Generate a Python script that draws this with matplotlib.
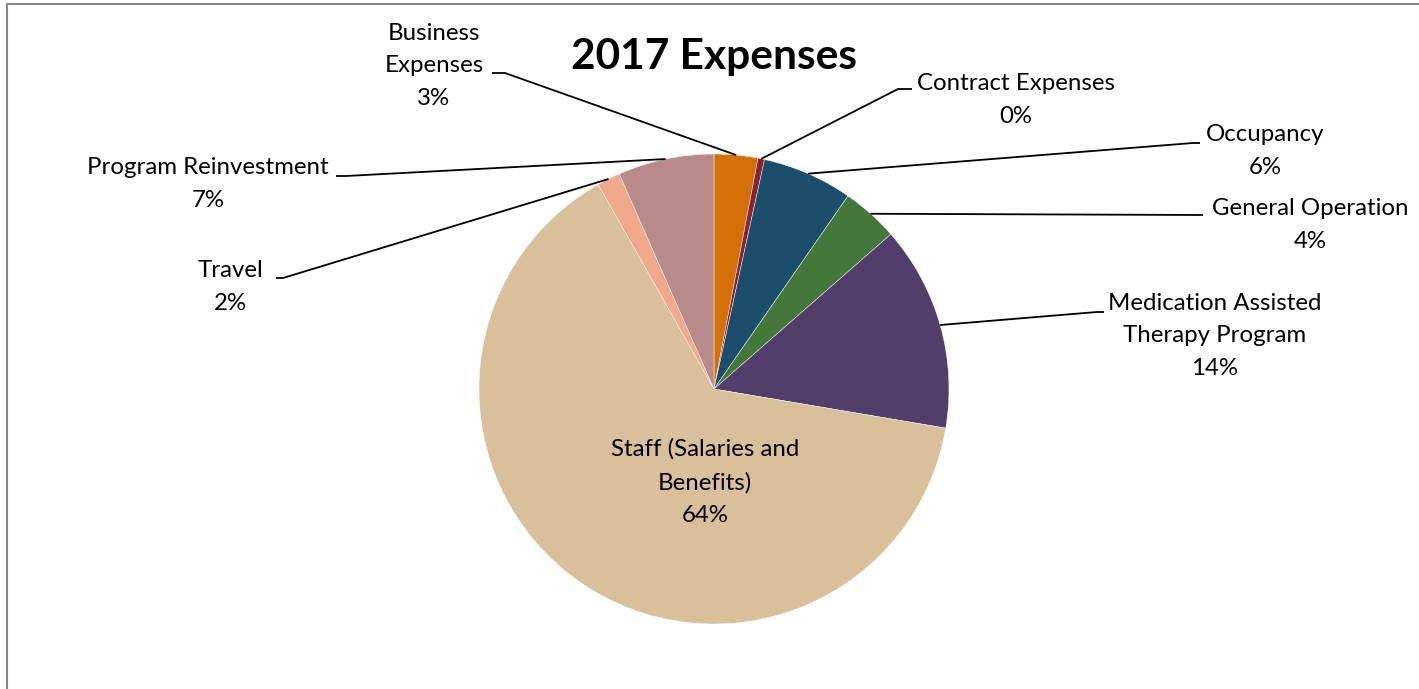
import numpy as np
import matplotlib.pyplot as plt
from matplotlib.patches import Rectangle

# 2017 expenses, share of total (%), clockwise from 12 o'clock
categories = ["Business Expenses", "Contract Expenses", "Occupancy", "General Operation",
              "Medication Assisted Therapy Program", "Staff (Salaries and Benefits)",
              "Travel", "Program Reinvestment"]
shares = [3.0, 0.45, 6.2, 3.9, 14.1, 64.1, 1.6, 6.6]
pct_labels = ["3%", "0%", "6%", "4%", "14%", "64%", "2%", "7%"]
colors = ["#D56F08", "#8B2232", "#1A4E6C", "#44783A", "#523E6A", "#D9C09B", "#F2A88A", "#B98A8A"]

plt.rcParams['font.family'] = ['Lato', 'DejaVu Sans']

W, H = 1419, 689
fig = plt.figure(figsize=(W / 100, H / 100), dpi=100)
ax = fig.add_axes([0, 0, 1, 1])

cx, cy, r = 714, H - 389, 235
wedges, _ = ax.pie(shares, colors=colors, startangle=90, counterclock=False,
                   center=(cx, cy), radius=r, frame=True,
                   wedgeprops=dict(edgecolor='white', linewidth=0.3))
ax.set_xlim(0, W)
ax.set_ylim(0, H)
ax.set_aspect('equal')
ax.axis('off')

# frame line (top and left edges visible)
fig.add_artist(Rectangle((7 / W, -0.1), 1.2, (H - 4) / H + 0.1, transform=fig.transFigure,
                         fill=False, edgecolor='#888888', linewidth=1.5))

ax.text(cx, H - 57, "2017 Expenses", ha='center', va='center', fontsize=30.5, fontweight='bold')

fs = 17.3
ls = 1.68
# label text position (center), elbow point, end of horizontal segment (pixel coords, top-left origin)
layout = {
    0: dict(txt="Business\nExpenses\n3%", pos=(434, 66), elbow=(505, 73), hend=(492, 73)),
    1: dict(txt="Contract Expenses\n0%", pos=(1016, 100), elbow=(898, 89), hend=(912, 89)),
    2: dict(txt="Occupancy\n6%", pos=(1265, 151), elbow=(1193, 143), hend=(1200, 143)),
    3: dict(txt="General Operation\n4%", pos=(1310, 225), elbow=(1203, 215), hend=(1203, 215)),
    4: dict(txt="Medication Assisted\nTherapy Program\n14%", pos=(1215, 336), elbow=(1097, 312), hend=(1104, 312)),
    6: dict(txt="Travel\n2%", pos=(230, 287), elbow=(283, 278), hend=(276, 278)),
    7: dict(txt="Program Reinvestment\n7%", pos=(208, 184), elbow=(346, 176), hend=(336, 176)),
}

for i, w in enumerate(wedges):
    mid = np.deg2rad((w.theta1 + w.theta2) / 2)
    ax_x = cx + r * np.cos(mid)
    ax_y = cy + r * np.sin(mid)
    if i == 5:
        ax.text(705, H - 482, "Staff (Salaries and\nBenefits)\n" + pct_labels[i], ha='center',
                va='center', fontsize=fs, linespacing=ls)
        continue
    L = layout[i]
    ex, ey = L['elbow']
    hx, hy = L['hend']
    ax.plot([ax_x, ex, hx], [ax_y, H - ey, H - hy], color='black', lw=1.3, solid_capstyle='butt')
    ax.text(L['pos'][0], H - L['pos'][1], L['txt'], ha='center', va='center', fontsize=fs,
            linespacing=ls)

fig.savefig('out.png', dpi=100)
